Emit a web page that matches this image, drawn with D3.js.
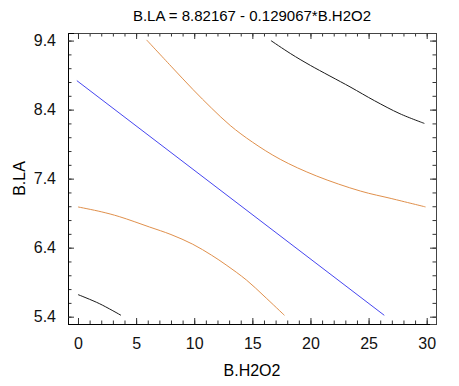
<!DOCTYPE html>
<html>
<head>
<meta charset="utf-8">
<script src="https://cdn.jsdelivr.net/npm/d3@7"></script>
<style>
  body { margin: 0; background: #fff; }
  text { font-family: "Liberation Sans", Arial, sans-serif; }
</style>
</head>
<body>
<div id="chart"></div>
<script>
// values
const title = "B.LA = 8.82167 - 0.129067*B.H2O2";
const xTicks = [0, 5, 10, 15, 20, 25, 30];
const yTicks = [5.4, 6.4, 7.4, 8.4, 9.4];

const fitLine = [[-0.1, 8.82], [26.35, 5.42]];
const upperConf = [[5.9, 9.41], [8, 9.03], [9.9, 8.69], [11.5, 8.42], [13.1, 8.17], [15, 7.93],
    [17.4, 7.68], [20.5, 7.44], [24.3, 7.22], [27, 7.11], [29.9, 6.99]];
const lowerConf = [[0, 6.99], [2, 6.92], [3.55, 6.85], [6.14, 6.70], [8, 6.59], [9.87, 6.45],
    [11.5, 6.29], [12.74, 6.15], [14.5, 5.93], [16, 5.70], [17.76, 5.42]];
const upperPred = [[16.6, 9.40], [18.3, 9.21], [20, 9.04], [23.4, 8.73], [25.5, 8.53], [27.7, 8.34], [29.8, 8.20]];
const lowerPred = [[0, 5.72], [1.83, 5.59], [3.7, 5.42]];

const width = 459,
    height = 386,
    margin = ({ top: 33, right: 23, bottom: 62, left: 68 });

const svg = d3.select("#chart")
    .append("svg")
    .attr("width", width)
    .attr("height", height);

let x = d3.scaleLinear()
    .domain([-0.86, 30.8])
    .range([margin.left, width - margin.right]);

let y = d3.scaleLinear()
    .domain([5.294, 9.51])
    .range([height - margin.bottom, margin.top]);

const xMinor = d3.range(0, 31, 1);
const yMinor = d3.range(5.4, 9.5, 0.2);

// minor ticks, all four sides, pointing inward
svg.append("g")
    .attr("transform", `translate(0,${height - margin.bottom})`)
    .call(d3.axisBottom(x).tickValues(xMinor).tickSize(-3.5).tickFormat(""));
svg.append("g")
    .attr("transform", `translate(0,${margin.top})`)
    .call(d3.axisTop(x).tickValues(xMinor).tickSize(-3.5).tickFormat(""));
svg.append("g")
    .attr("transform", `translate(${margin.left},0)`)
    .call(d3.axisLeft(y).tickValues(yMinor).tickSize(-3.5).tickFormat(""));
svg.append("g")
    .attr("transform", `translate(${width - margin.right},0)`)
    .call(d3.axisRight(y).tickValues(yMinor).tickSize(-3.5).tickFormat(""));

// major ticks
svg.append("g")
    .attr("class", "xaxis")
    .attr("transform", `translate(0,${height - margin.bottom})`)
    .call(d3.axisBottom(x).tickValues(xTicks).tickSize(-6).tickPadding(14).tickFormat(d3.format("d")));
svg.append("g")
    .attr("transform", `translate(0,${margin.top})`)
    .call(d3.axisTop(x).tickValues(xTicks).tickSize(-6).tickFormat(""));
svg.append("g")
    .attr("class", "yaxis")
    .attr("transform", `translate(${margin.left},0)`)
    .call(d3.axisLeft(y).tickValues(yTicks).tickSize(-6).tickPadding(12).tickFormat(d3.format(".1f")));
svg.append("g")
    .attr("transform", `translate(${width - margin.right},0)`)
    .call(d3.axisRight(y).tickValues(yTicks).tickSize(-6).tickFormat(""));

svg.selectAll(".domain").attr("stroke", "#444");
svg.selectAll(".tick line").attr("stroke", "#333");
svg.selectAll(".xaxis .domain, .yaxis .domain").attr("stroke", "#000");
svg.selectAll(".xaxis text, .yaxis text")
    .style("font-size", "16px")
    .attr("fill", "#111");

svg.append("text")
    .attr("text-anchor", "middle")
    .attr("x", (margin.left + width - margin.right) / 2)
    .attr("y", 21)
    .style("font-size", "15px")
    .text(title);

svg.append("text")
    .attr("text-anchor", "middle")
    .attr("x", (margin.left + width - margin.right) / 2)
    .attr("y", 376)
    .style("font-size", "16px")
    .text("B.H2O2");

svg.append("text")
    .attr("text-anchor", "middle")
    .attr("transform", `translate(25,${(margin.top + height - margin.bottom) / 2}) rotate(-90)`)
    .style("font-size", "16px")
    .text("B.LA");

let line = d3.line()
    .x(d => x(d[0]))
    .y(d => y(d[1]))
    .curve(d3.curveCatmullRom.alpha(0.5));

const series = [
    [fitLine, "#4646f0"],
    [upperConf, "#e0904c"],
    [lowerConf, "#e0904c"],
    [upperPred, "#1a1a1a"],
    [lowerPred, "#1a1a1a"]
];

for (let [data, color] of series) {
    svg.append("path")
        .datum(data)
        .attr("d", line)
        .attr("fill", "none")
        .attr("stroke", color)
        .attr("stroke-width", 1);
}
</script>
</body>
</html>
